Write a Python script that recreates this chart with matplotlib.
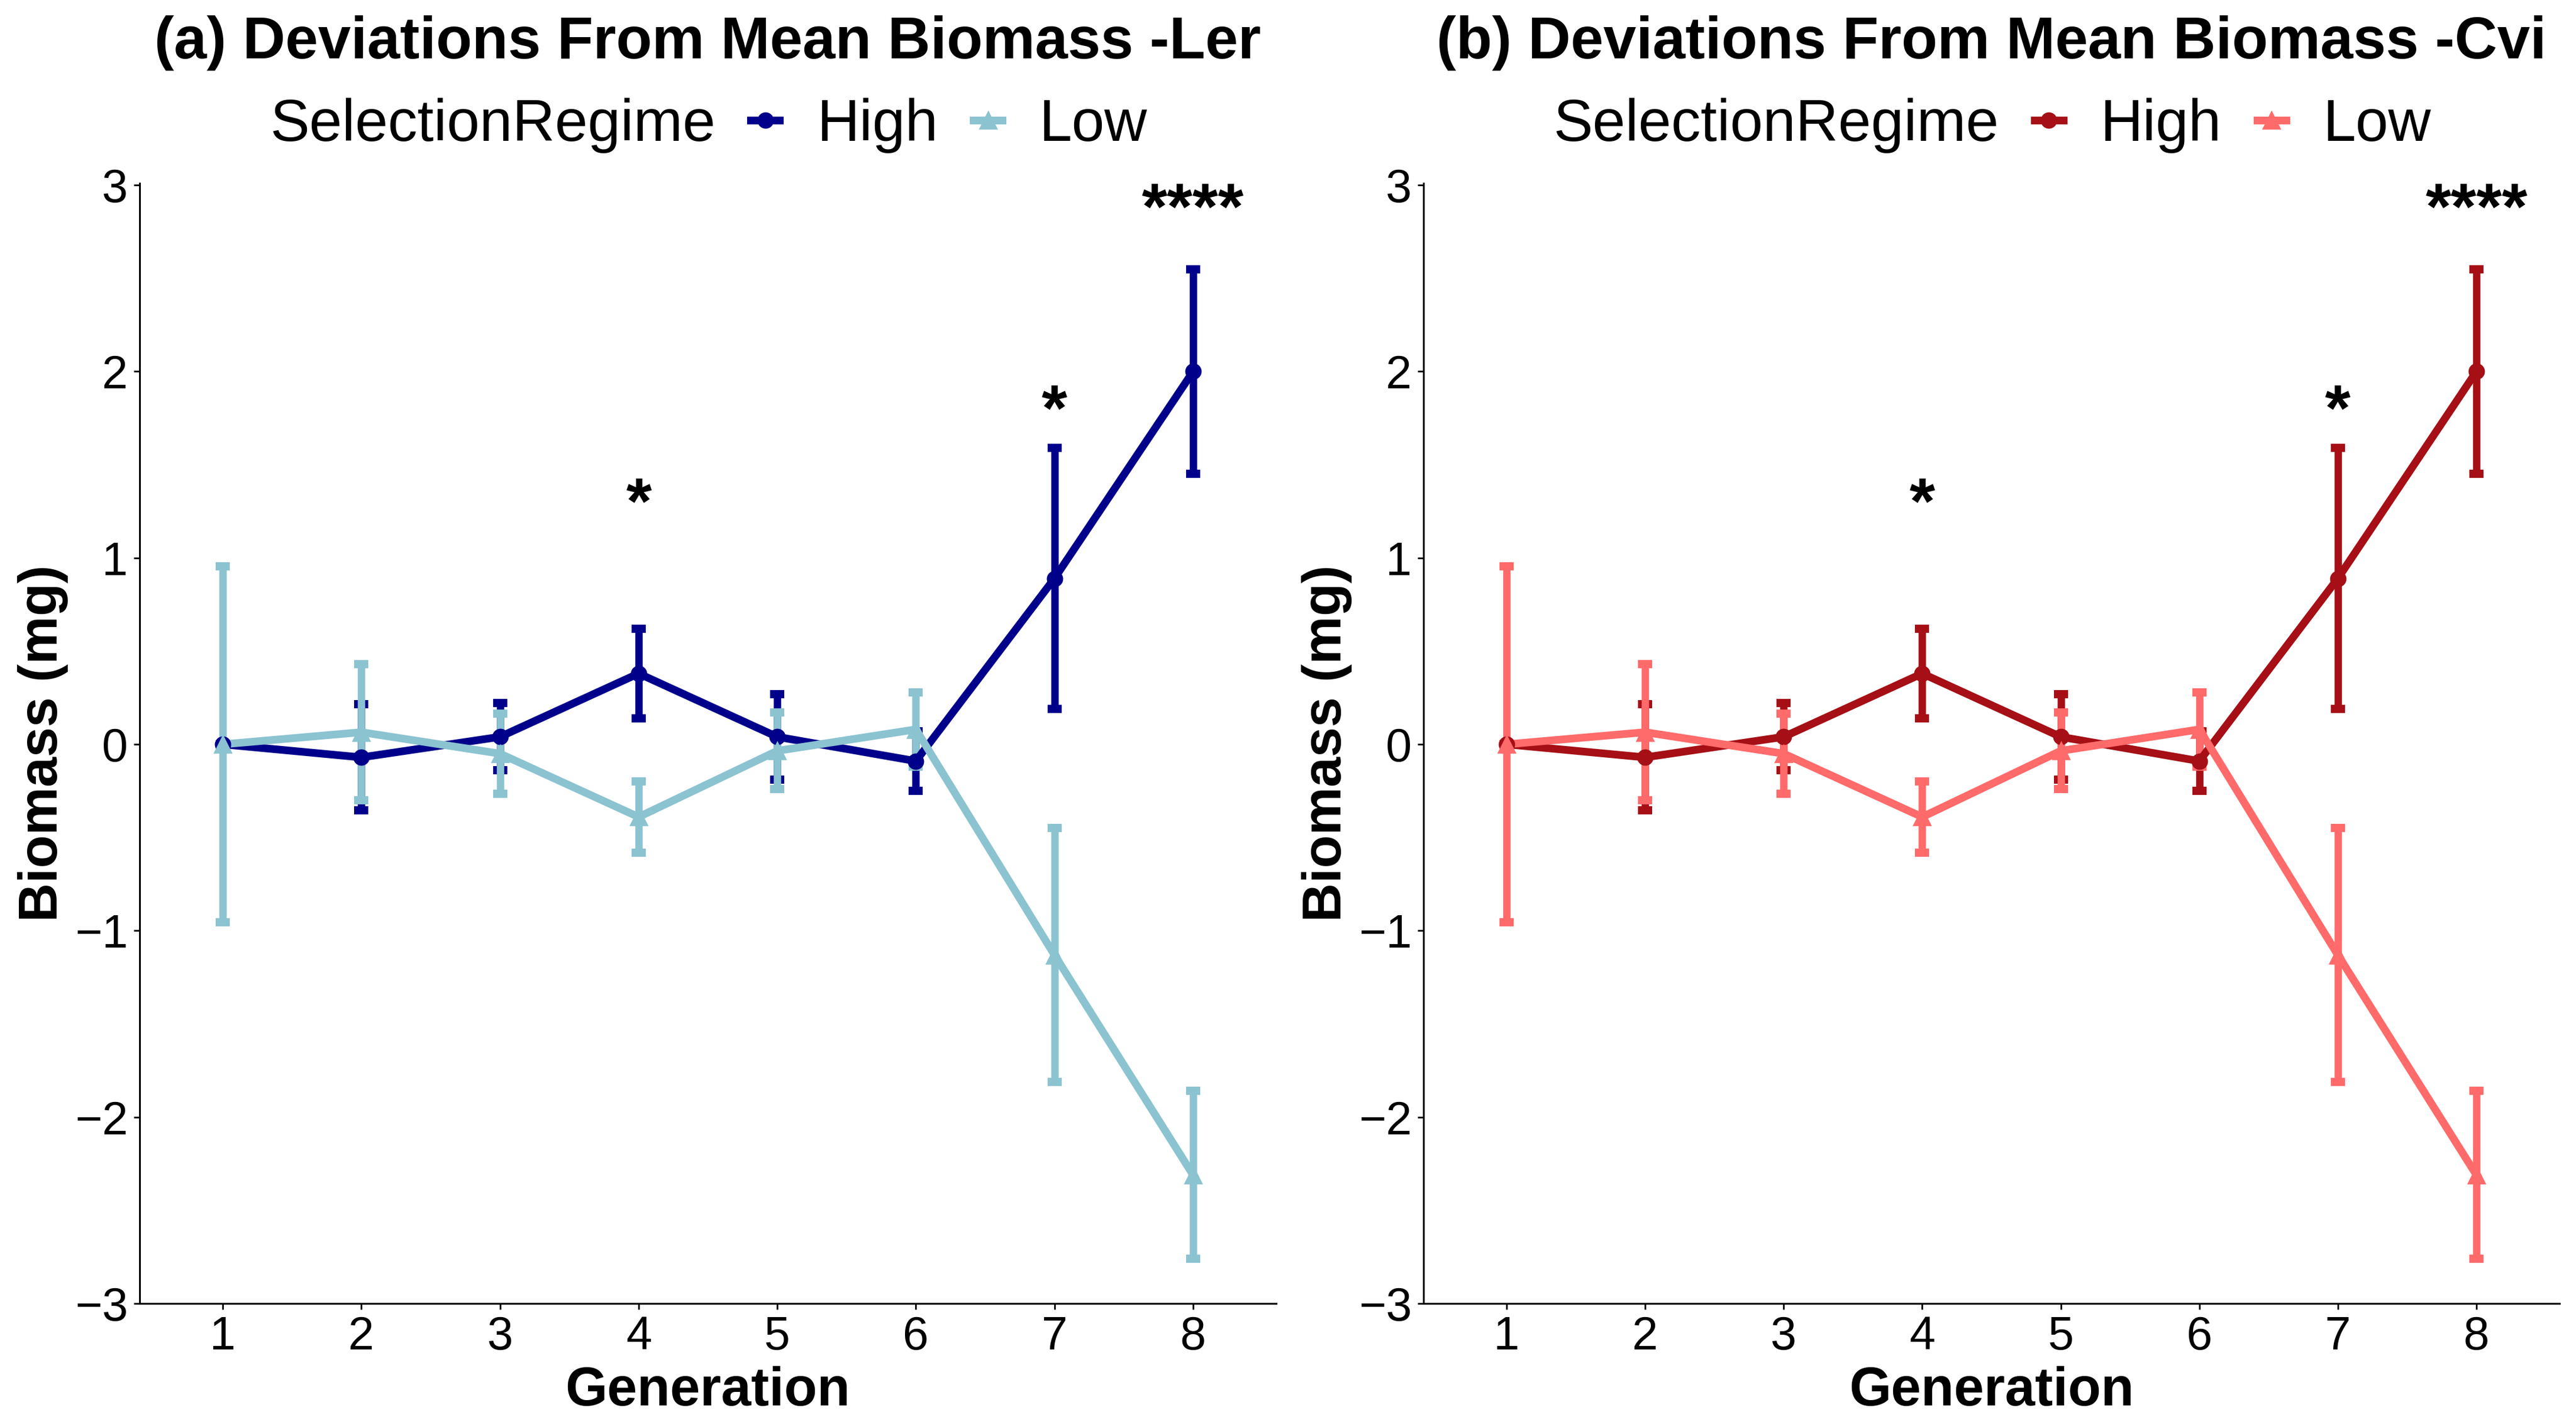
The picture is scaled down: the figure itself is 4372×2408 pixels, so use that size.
import matplotlib
matplotlib.use("Agg")
import matplotlib.pyplot as plt
from matplotlib.lines import Line2D

plt.rcParams['font.family'] = ['Liberation Sans', 'DejaVu Sans']

# data (both panels show the same values)
generation = [1, 2, 3, 4, 5, 6, 7, 8]
high_mean = [0.00, -0.07, 0.04, 0.38, 0.04, -0.09, 0.89, 2.00]
high_se = [0.00, 0.285, 0.18, 0.24, 0.23, 0.16, 0.70, 0.55]
low_mean = [0.00, 0.065, -0.05, -0.39, -0.035, 0.08, -1.13, -2.31]
low_se = [0.955, 0.365, 0.215, 0.19, 0.205, 0.20, 0.68, 0.45]

# significance labels
sig_gen = [4, 7, 8]
sig_labels = ["*", "*", "****"]
sig_y = [1.185, 1.685, 2.765]

titles = ["(a) Deviations From Mean Biomass -Ler", "(b) Deviations From Mean Biomass -Cvi"]
high_colors = ["#00008B", "#A50F15"]
low_colors = ["#8BC3D1", "#FF6A6A"]

W, H = 4372, 2408
fig = plt.figure(figsize=(W / 200, H / 200), dpi=200)
positions = [[237 / W, 1 - 2212 / H, (2166 - 237) / W, (2212 - 311) / H],
             [2416 / W, 1 - 2212 / H, (4344 - 2416) / W, (2212 - 311) / H]]

for i in range(2):
    ax = fig.add_axes(positions[i])
    ch, cl = high_colors[i], low_colors[i]

    # error bars first, then lines, then points
    ax.errorbar(generation, high_mean, yerr=high_se, fmt='none', ecolor=ch,
                elinewidth=4.5, capsize=4.4, capthick=5, zorder=2)
    ax.errorbar(generation, low_mean, yerr=low_se, fmt='none', ecolor=cl,
                elinewidth=4.5, capsize=4.4, capthick=5, zorder=2.1)
    ax.plot(generation, high_mean, color=ch, lw=4.7, zorder=3)
    ax.plot(generation, low_mean, color=cl, lw=4.7, zorder=3.1)
    ax.plot(generation, high_mean, 'o', color=ch, markersize=9, zorder=4)
    ax.plot(generation, low_mean, '^', color=cl, markersize=10, zorder=4.1)

    for g, lab, y in zip(sig_gen, sig_labels, sig_y):
        ax.text(g, y, lab, ha='center', va='baseline', fontsize=40, fontweight='bold')

    ax.set_xlim(0.4, 8.6)
    ax.set_ylim(-3.0, 3.01)
    ax.set_xticks(generation)
    ax.set_yticks([-3, -2, -1, 0, 1, 2, 3])
    ax.tick_params(labelsize=28.5, length=3.6, width=1.0, pad=3.5, colors='black')
    for s in ['top', 'right']:
        ax.spines[s].set_visible(False)
    for s in ['left', 'bottom']:
        ax.spines[s].set_linewidth(1.1)

    ax.set_xlabel("Generation", fontsize=33, fontweight='bold', labelpad=4)
    ax.set_ylabel("Biomass (mg)", fontsize=33, fontweight='bold', labelpad=4)

    xc = positions[i][0] + positions[i][2] / 2
    fig.text(xc, 1 - 99 / H, titles[i], ha='center', va='baseline',
             fontsize=36, fontweight='bold')

    blank = Line2D([], [], linestyle='none')
    h_high = Line2D([], [], color=ch, lw=4.7, marker='o', markersize=9)
    h_low = Line2D([], [], color=cl, lw=4.7, marker='^', markersize=10)
    ax.legend([blank, h_high, h_low], ["SelectionRegime", "High", "Low"], ncol=3,
              loc='center', bbox_to_anchor=(xc - 54.5 / W, 0.9115),
              bbox_transform=fig.transFigure, frameon=False, fontsize=36,
              handlelength=0.49, handletextpad=0.63, columnspacing=0.6, borderpad=0)

fig.savefig("out.png", dpi=200)
